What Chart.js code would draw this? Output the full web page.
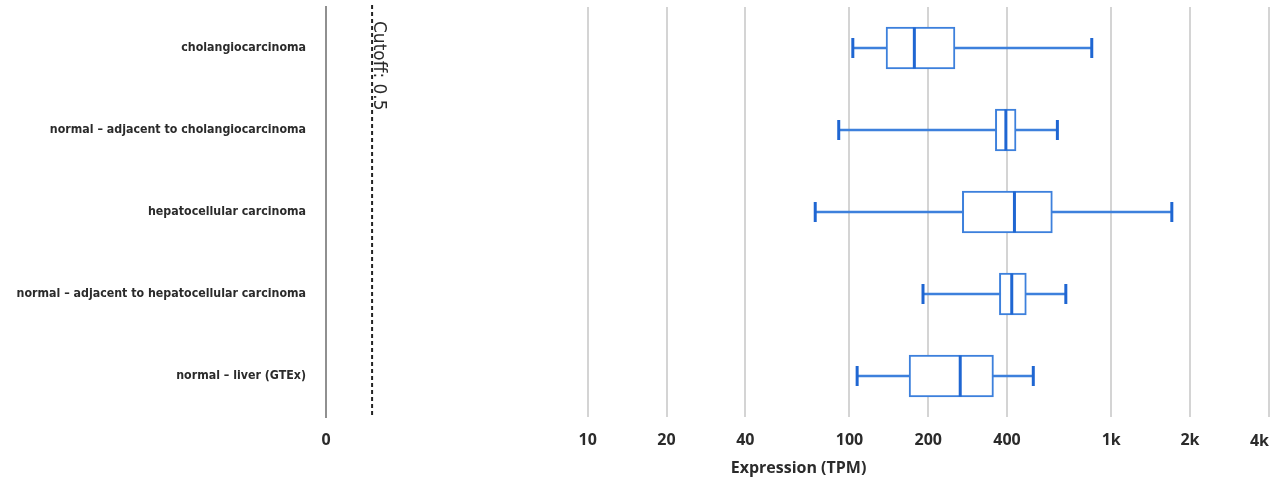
<!DOCTYPE html>
<html>
<head>
<meta charset="utf-8">
<script src="https://cdn.jsdelivr.net/npm/chart.js@4"></script>
<style>
  html, body { margin: 0; padding: 0; background: #fff; }
  #wrap { width: 1271px; height: 486px; }
</style>
</head>
<body>
<div id="wrap"><canvas id="exprChart"></canvas></div>
<script>
// tissues, top to bottom
var categories = [
  'cholangiocarcinoma',
  'normal – adjacent to cholangiocarcinoma',
  'hepatocellular carcinoma',
  'normal – adjacent to hepatocellular carcinoma',
  'normal – liver (GTEx)'
];
// box plot stats, TPM
var whiskerLow  = [103, 91, 74, 191, 107];
var boxLow      = [138, 361, 270, 374, 169];
var medians     = [177, 396, 427, 417, 265];
var boxHigh     = [253, 433, 596, 474, 355];
var whiskerHigh = [843, 623, 1705, 671, 504];

var tickValues = [0, 10, 20, 40, 100, 200, 400, 1000, 2000, 4000];
var tickLabels = ['0', '10', '20', '40', '100', '200', '400', '1k', '2k', '4k'];
var cutoff = 0.5;
var axisMax = 4080;

var boxColor = '#3d80dc';
var darkBlue = '#1f66d2';
var textColor = '#2b2b2b';

// log axis where 0 sits one decade below 10
function toAxis(v) {
  return v >= 1 ? Math.log10(v) : Math.log10(1 + v);
}

var cutoffPlugin = {
  id: 'cutoffLine',
  afterDatasetsDraw: function(chart) {
    var ctx = chart.ctx;
    var area = chart.chartArea;
    var x = chart.scales.x.getPixelForValue(toAxis(cutoff));
    ctx.save();
    ctx.strokeStyle = '#222';
    ctx.lineWidth = 2;
    ctx.setLineDash([4, 3]);
    ctx.beginPath();
    ctx.moveTo(x, area.top - 2);
    ctx.lineTo(x, area.bottom);
    ctx.stroke();
    ctx.translate(x + 2, area.top + 14);
    ctx.rotate(Math.PI / 2);
    ctx.fillStyle = textColor;
    ctx.font = '17px "DejaVu Sans"';
    ctx.textBaseline = 'alphabetic';
    ctx.textAlign = 'left';
    ctx.fillText('Cutoff: ' + cutoff, 0, 0);
    ctx.restore();
  },
  afterDraw: function(chart) {
    // last tick label is pulled inside the canvas
    var ctx = chart.ctx;
    ctx.save();
    ctx.fillStyle = textColor;
    ctx.font = 'bold 16px "Open Sans"';
    ctx.textAlign = 'right';
    ctx.textBaseline = 'middle';
    ctx.fillText(tickLabels[tickLabels.length - 1], chart.width - 2, 441);
    ctx.restore();
  }
};

var ctx = document.getElementById('exprChart').getContext('2d');
var chart = new Chart(ctx, {
  type: 'bar',
  data: {
    labels: categories,
    datasets: [
      {
        type: 'line',
        label: 'median',
        data: medians.map(toAxis),
        showLine: false,
        pointStyle: 'line',
        pointRotation: 90,
        pointRadius: 20.5,
        pointBorderWidth: 3,
        pointBorderColor: darkBlue,
        order: 1
      },
      {
        type: 'line',
        label: 'low',
        data: whiskerLow.map(toAxis),
        showLine: false,
        pointStyle: 'line',
        pointRotation: 90,
        pointRadius: 10,
        pointBorderWidth: 3,
        pointBorderColor: darkBlue,
        order: 1
      },
      {
        type: 'line',
        label: 'high',
        data: whiskerHigh.map(toAxis),
        showLine: false,
        pointStyle: 'line',
        pointRotation: 90,
        pointRadius: 10,
        pointBorderWidth: 3,
        pointBorderColor: darkBlue,
        order: 1
      },
      {
        label: 'box',
        data: boxLow.map(function(v, i) { return [toAxis(v), toAxis(boxHigh[i])]; }),
        backgroundColor: '#ffffff',
        borderColor: boxColor,
        borderWidth: 2,
        borderSkipped: false,
        barThickness: 42,
        grouped: false,
        order: 2
      },
      {
        label: 'whisker',
        data: whiskerLow.map(function(v, i) { return [toAxis(v), toAxis(whiskerHigh[i])]; }),
        backgroundColor: boxColor,
        borderWidth: 0,
        barThickness: 2,
        grouped: false,
        order: 3
      }
    ]
  },
  options: {
    indexAxis: 'y',
    responsive: true,
    maintainAspectRatio: false,
    animation: false,
    events: [],
    layout: { autoPadding: false, padding: { top: 7, right: 0, bottom: 0, left: 0 } },
    plugins: {
      legend: { display: false },
      tooltip: { enabled: false }
    },
    scales: {
      x: {
        type: 'linear',
        min: 0,
        max: toAxis(axisMax),
        afterBuildTicks: function(scale) {
          scale.ticks = tickValues.map(function(v) { return { value: toAxis(v) }; });
        },
        afterFit: function(scale) {
          scale.height = 69;
          scale.paddingLeft = 0;
          scale.paddingRight = 0;
        },
        grid: { color: '#d4d4d4', lineWidth: 2, drawTicks: false },
        border: { display: false },
        ticks: {
          padding: 14,
          autoSkip: false,
          maxRotation: 0,
          color: function(c) { return c.index === tickLabels.length - 1 ? 'rgba(0,0,0,0)' : textColor; },
          font: { family: 'Open Sans', size: 16, weight: 'bold' },
          callback: function(val, i) { return tickLabels[i]; }
        },
        title: {
          display: true,
          text: 'Expression (TPM)',
          color: textColor,
          font: { family: 'Open Sans', size: 16, weight: 'bold' },
          padding: { top: 0, bottom: 8 }
        }
      },
      y: {
        afterFit: function(scale) {
          scale.width = 326;
          scale.paddingTop = 0;
          scale.paddingBottom = 0;
        },
        grid: { display: false, drawTicks: false },
        border: { display: true, color: '#909090', width: 2 },
        ticks: {
          padding: 20,
          color: textColor,
          font: { family: 'DejaVu Sans Condensed', size: 12.3, weight: 'bold' }
        }
      }
    }
  },
  plugins: [cutoffPlugin]
});
</script>
</body>
</html>
